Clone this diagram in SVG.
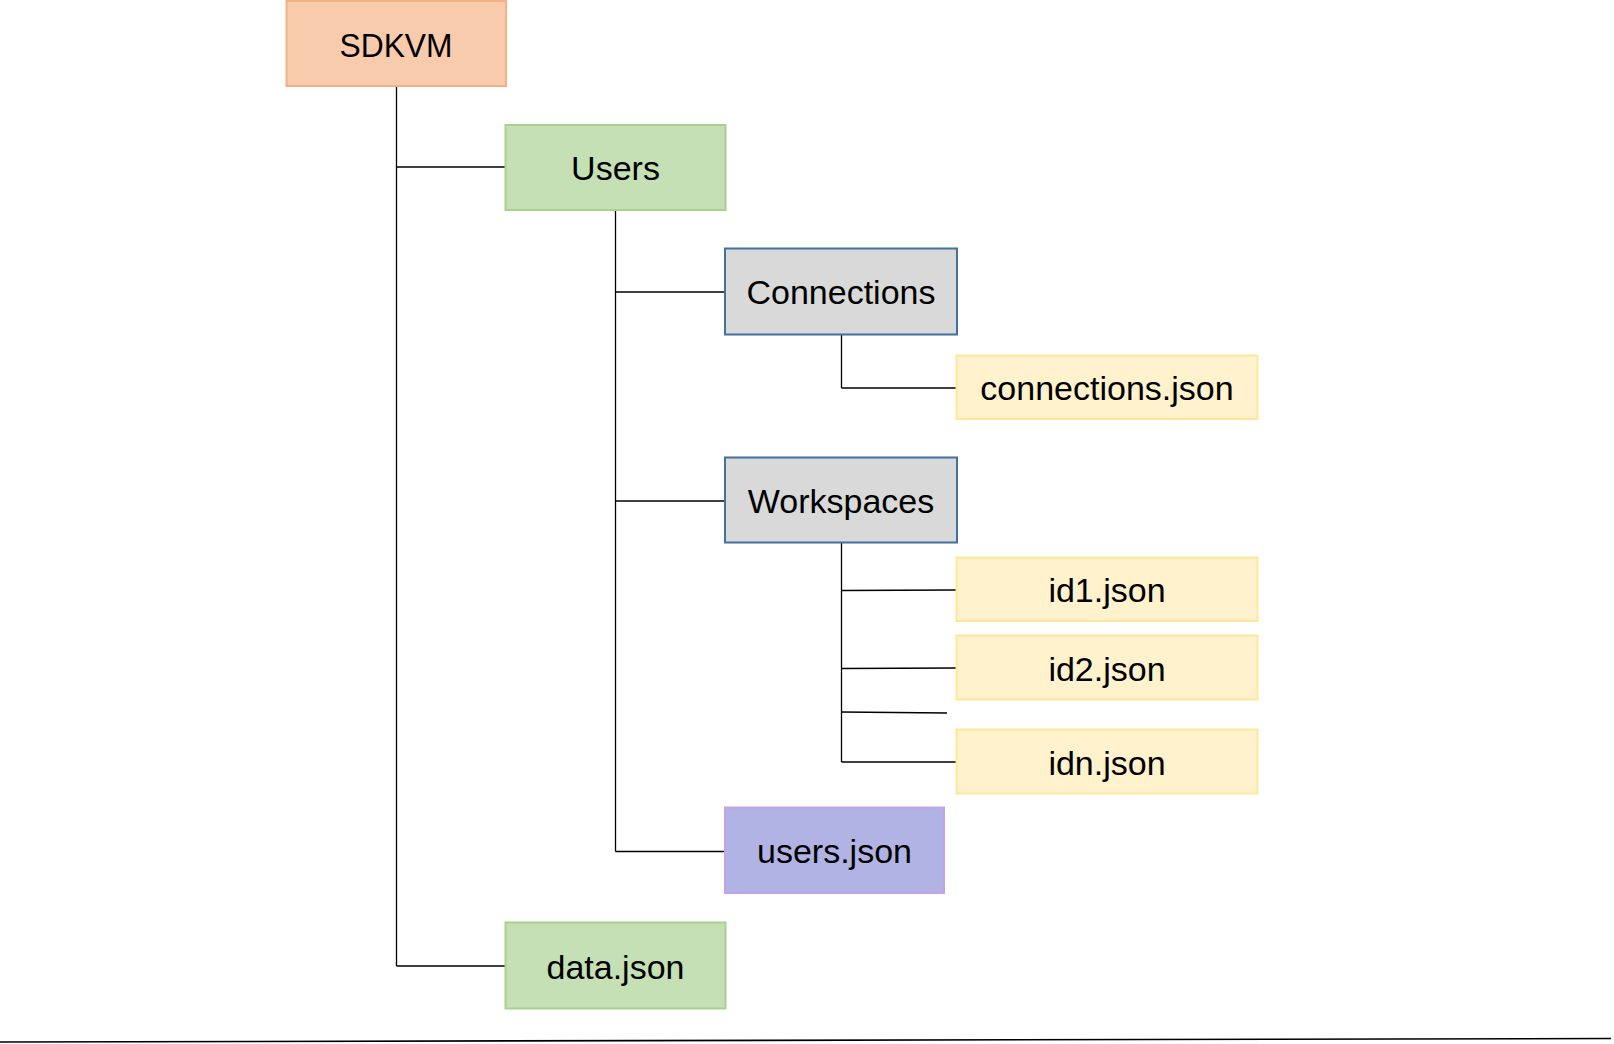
<svg xmlns="http://www.w3.org/2000/svg" width="1614" height="1044" viewBox="0 0 1614 1044">
<style>
.n text{font-family:"Liberation Sans",Arial,sans-serif;font-size:34px;fill:#000;text-anchor:middle}
.orange rect{fill:#F8CBAD;stroke:#F4B183;stroke-width:2}
.green rect{fill:#C5E0B4;stroke:#A9D18E;stroke-width:2}
.grey rect{fill:#D9D9D9;stroke:#41719C;stroke-width:2}
.yellow rect{fill:#FFF2CC;stroke:#FFE699;stroke-width:2}
.purple rect{fill:#B1B3E5;stroke:#C3A3E8;stroke-width:2}
.c line{stroke:#000;stroke-width:1.3;fill:none}
</style>
<rect width="1614" height="1044" fill="#fff"/>
<g class="c" id="connectors">
<line x1="396.5" y1="86" x2="396.5" y2="966"/>
<line x1="396.5" y1="167" x2="505" y2="167"/>
<line x1="396.5" y1="966" x2="505" y2="966"/>
<line x1="615.5" y1="210" x2="615.5" y2="851.5"/>
<line x1="615.5" y1="292" x2="725" y2="292"/>
<line x1="615.5" y1="501" x2="725" y2="501"/>
<line x1="615.5" y1="851.5" x2="725" y2="851.5"/>
<line x1="841.5" y1="335" x2="841.5" y2="388"/>
<line x1="841.5" y1="388" x2="956" y2="388"/>
<line x1="841.5" y1="542" x2="841.5" y2="762"/>
<line x1="841.5" y1="590.5" x2="956" y2="590"/>
<line x1="841.5" y1="668.5" x2="956" y2="668"/>
<line x1="841.5" y1="712" x2="947" y2="713"/>
<line x1="841.5" y1="762" x2="956" y2="762"/>
<line x1="0" y1="1042" x2="1611" y2="1038.5" style="stroke-width:1.6"/>
</g>
<g class="n orange" id="sdkvm"><rect x="286.5" y="1" width="219.5" height="85"/><text x="396" y="56.5" textLength="113" lengthAdjust="spacingAndGlyphs">SDKVM</text></g>
<g class="n green" id="users"><rect x="505.5" y="125" width="220" height="85"/><text x="615.5" y="180">Users</text></g>
<g class="n grey" id="connections"><rect x="725" y="248.5" width="232" height="86"/><text x="841" y="304">Connections</text></g>
<g class="n yellow" id="connections-json"><rect x="956.5" y="355.5" width="301" height="63.5"/><text x="1107" y="400">connections.json</text></g>
<g class="n grey" id="workspaces"><rect x="725" y="457.5" width="232" height="85"/><text x="841" y="513">Workspaces</text></g>
<g class="n yellow" id="id1-json"><rect x="956.5" y="557.5" width="301" height="63.5"/><text x="1107" y="602">id1.json</text></g>
<g class="n yellow" id="id2-json"><rect x="956.5" y="635.5" width="301" height="64"/><text x="1107" y="680.5">id2.json</text></g>
<g class="n yellow" id="idn-json"><rect x="956.5" y="729.5" width="301" height="64"/><text x="1107" y="774.5">idn.json</text></g>
<g class="n purple" id="users-json"><rect x="725" y="807.5" width="219" height="85.5"/><text x="834.5" y="863">users.json</text></g>
<g class="n green" id="data-json"><rect x="505.5" y="922.5" width="220" height="86"/><text x="615.5" y="978.5">data.json</text></g>
</svg>
